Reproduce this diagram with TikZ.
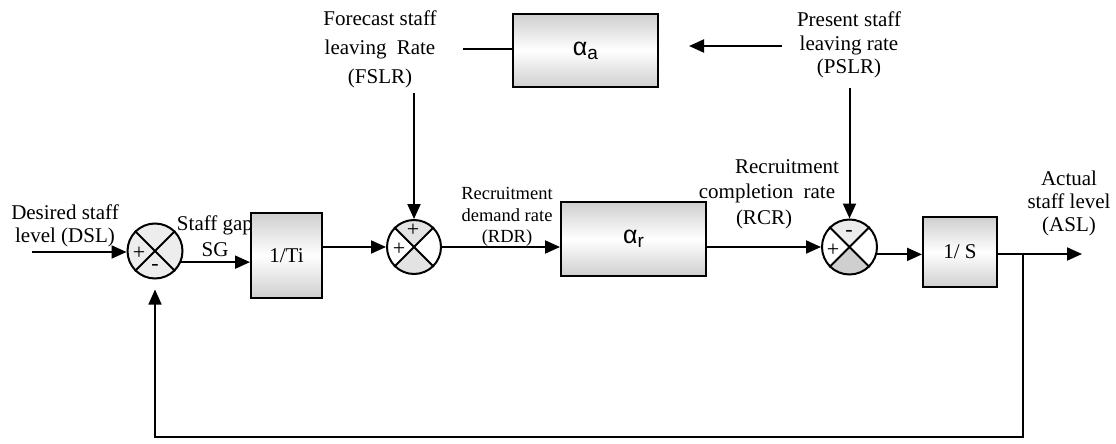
\documentclass[tikz,border=0pt]{standalone}
\usepackage{fontspec}
\setmainfont{Liberation Serif}
\newfontfamily\alfont{Liberation Sans}
\usetikzlibrary{arrows.meta,calc}
\begin{document}
\begin{tikzpicture}[x=1pt,y=-1pt,
  line width=2pt,
  arr/.style={-{Triangle[length=15pt,width=13pt]}},
  blockbox/.style={draw, line width=2pt, top color=gray!38, bottom color=gray!38, middle color=white, inner sep=0pt, font=\fontsize{21}{24}\selectfont},
  sumnode/.style={draw, circle, line width=2pt, minimum size=55pt, inner sep=0pt},
  lbl/.style={font=\fontsize{21}{23.5}\selectfont, align=center, inner sep=0pt},
  sgn/.style={font=\fontsize{22}{22}\selectfont, inner sep=0pt},
  shade1/.style={fill=gray!22},
  shade2/.style={fill=gray!38},
]
\useasboundingbox (0,0) rectangle (1116,444);

% ---- summing-junction shading (drawn first) ----
\begin{scope}
  \clip (155,251) circle (27.5);
  \fill[gray!14] (155,251) circle (27.5);
\end{scope}
\begin{scope}
  \clip (414,247) circle (27);
  \fill[shade1] (414,247) -- ++(-40,-40) -- ++(80,0) -- cycle;
  \fill[shade1] (414,247) -- ++(-40,40) -- ++(80,0) -- cycle;
\end{scope}
\begin{scope}
  \clip (849.5,247) circle (27.5);
  \fill[gray!15] (849.5,247) -- ++(-40,-40) -- ++(80,0) -- cycle;
  \fill[shade2] (849.5,247) -- ++(-40,40) -- ++(80,0) -- cycle;
\end{scope}

% ---- labels ----
\node[lbl] (dsl) at (65,226) {Desired staff\\level (DSL)};
\node[lbl, font=\fontsize{21}{26}\selectfont] (sg) at (215,236) {Staff gap\\SG};
\node[lbl, font=\fontsize{21}{29}\selectfont] (fslr) at (380,49) {Forecast staff\\leaving\hspace{5pt} Rate\\(FSLR)};
\node[lbl] (pslr) at (849,45) {Present staff\\leaving rate\\(PSLR)};
\node[lbl, font=\fontsize{18.5}{21.5}\selectfont] (rdr) at (507,217) {Recruitment\\demand rate\\(RDR)};
\node[lbl] (rcr1) at (787,167) {Recruitment};
\node[lbl] (rcr2) at (767,193) {completion\hspace{5pt} rate};
\node[lbl] (rcr3) at (764,219) {(RCR)};
\node[lbl, font=\fontsize{21}{23}\selectfont] (asl) at (1069,203) {Actual\\staff level\\(ASL)};

% ---- blocks ----
\node[blockbox, minimum width=71pt, minimum height=85pt] (Ti) at (286.5,255.5) {1/Ti};
\node[blockbox, minimum width=145pt, minimum height=74pt] (Ar) at (633.5,239)
  {\alfont\fontsize{25}{25}\selectfont α\raisebox{-4pt}{\fontsize{19}{19}\selectfont r}};
\node[blockbox, minimum width=74pt, minimum height=70pt] (Sb) at (960,252) {1/ S};
\node[blockbox, minimum width=145pt, minimum height=73pt] (Aa) at (585.5,50.5)
  {\alfont\fontsize{25}{25}\selectfont α\raisebox{-4pt}{\fontsize{19}{19}\selectfont a}};

% ---- summing junctions ----
\node[sumnode] (S1) at (155,251) {};
\node[sumnode, minimum size=54pt] (S2) at (414,247) {};
\node[sumnode] (S3) at (849.5,247) {};
\foreach \s in {S1,S2,S3}{
  \draw[line width=1.8pt] (\s.45) -- (\s.225) (\s.135) -- (\s.315);
}

% ---- signs ----
\node[sgn] (p1) at (139,253) {+};
\node[sgn] (m1) at (155,267) {-};
\node[sgn] (p2a) at (413,230) {+};
\node[sgn] (p2b) at (399,249) {+};
\node[sgn] (m3) at (849,233) {-};
\node[sgn] (p3) at (833,250) {+};

% ---- free ends ----
\coordinate (dslin) at (32,252);
\coordinate (fslrdrop) at (414,93);
\coordinate (pslrdrop) at (849.5,88);
\coordinate (out) at (1082,254);
\coordinate (fbr) at (1023,254);
\coordinate (fbcornerR) at (1023,437);
\coordinate (fbcornerL) at (155,437);
\coordinate (fslrline) at (463,49);
\coordinate (pslrstart) at (782,46);
\coordinate (pslrtip) at (689,46);

% ---- connectors ----
\draw[arr] (dslin) -- (dslin -| S1.west);
\draw[arr] (S1.-23) -- (S1.-23 -| Ti.west);
\draw[arr] (Ti.east |- S2.west) -- (S2.west);
\draw[arr] (fslrdrop) -- (S2.north);
\draw[arr] (S2.east) -- (S2.east -| Ar.west);
\draw[arr] (Ar.east |- S3.west) -- (S3.west);
\draw[arr] (pslrdrop) -- (S3.north);
\draw[arr] (S3.-15) -- (S3.-15 -| Sb.west);
\draw[arr] (Sb.east |- out) -- (out);
\draw[arr, line width=1.7pt, shorten >=10pt] (fbr) -- (fbcornerR) -- (fbcornerL) -- (S1.south);
\draw (Aa.west |- fslrline) -- (fslrline);
\draw[arr] (pslrstart) -- (pslrtip);
\end{tikzpicture}
\end{document}
